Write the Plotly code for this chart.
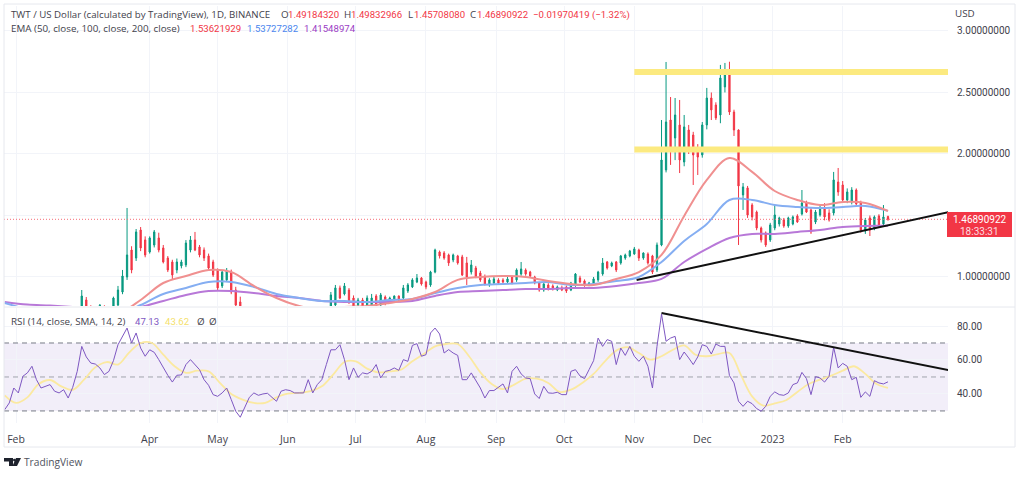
import pandas as pd
import plotly.graph_objects as go

W, H = 1024, 477

# daily-ish candles, one every two days
opens = [
    .68, .67, .66, .64, .65, .63, .62, .64, .66, .65,
    .67, .66, .68, .66, .67, .70, .72, .764, .813, .75,
    .74, .716, .76, .73, .74, .772, .878, 1.0, 1.219, 1.154,
    1.382, 1.301, 1.203, 1.26, 1.317, 1.236, 1.154, 1.122, 1.057, 1.09,
    1.098, 1.219, 1.301, 1.244, 1.219, 1.171, 1.122, 1.057, .927, .976,
    1.04, .894, .797, .69, .65, .64, .68, .67, .65, .66,
    .69, .67, .63, .61, .60, .62, .65, .64, .66, .68,
    .69, .70, .732, .772, .911, .862, .894, .829, .772, .813,
    .764, .772, .845, .772, .837, .813, .821, .845, .829, .886,
    .919, .959, .992, .959, .935, 1.04, 1.203, 1.195, 1.179, 1.138,
    1.171, 1.163, 1.114, 1.04, 1.073, 1.032, 1.0, .935, .951, .976,
    .976, .959, 1.0, .976, 1.024, 1.057, 1.04, 1.0, .951, .894,
    .935, .927, .894, .911, .919, .894, .935, .992, .968, .935,
    .951, .976, 1.024, 1.122, 1.09, 1.122, 1.114, 1.154, 1.171, 1.187,
    1.219, 1.154, 1.187, 1.171, 1.057, 1.26, 1.87, 2.276, 2.13, 2.236,
    1.935, 2.195, 2.154, 2.032, 1.992, 2.236, 2.455, 2.398, 2.317, 2.545,
    2.642, 2.341, 2.195, 1.667, 1.724, 1.585, 1.528, 1.398, 1.358, 1.301,
    1.398, 1.431, 1.463, 1.415, 1.431, 1.496, 1.512, 1.602, 1.545, 1.447,
    1.504, 1.561, 1.52, 1.52, 1.772, 1.748, 1.626, 1.61, 1.707, 1.602,
    1.374, 1.48, 1.398, 1.496, 1.431, 1.49184,
]
highs = [
    .70, .69, .68, .66, .67, .65, .65, .67, .68, .67,
    .69, .69, .70, .68, .71, .73, .75, .894, .837, .77,
    .76, .78, .77, .76, .84, .927, 1.057, 1.561, 1.25, 1.39,
    1.406, 1.33, 1.33, 1.382, 1.36, 1.26, 1.17, 1.14, 1.15, 1.14,
    1.30, 1.333, 1.366, 1.26, 1.24, 1.19, 1.14, 1.07, 1.05, 1.073,
    1.06, .92, .84, .71, .68, .70, .71, .69, .68, .70,
    .71, .68, .66, .64, .63, .66, .68, .67, .70, .71,
    .72, .74, .878, .935, .93, .951, .91, .85, .83, .83,
    .85, .862, .86, .87, .85, .84, .85, .85, .935, .95,
    .99, 1.024, 1.0, .97, 1.05, 1.23, 1.215, 1.21, 1.19, 1.19,
    1.18, 1.18, 1.163, 1.138, 1.09, 1.05, 1.02, .99, 1.0, .99,
    .99, 1.0, 1.01, 1.07, 1.122, 1.07, 1.05, 1.01, .96, .95,
    .95, .94, .93, .93, .93, .96, 1.032, 1.01, .98, .96,
    1.0, 1.05, 1.154, 1.13, 1.125, 1.13, 1.179, 1.19, 1.22, 1.244,
    1.23, 1.20, 1.2, 1.18, 1.28, 2.276, 2.748, 2.463, 2.455, 2.439,
    2.317, 2.236, 2.18, 2.08, 2.26, 2.537, 2.5, 2.42, 2.724, 2.74,
    2.75, 2.36, 2.2, 1.764, 1.74, 1.60, 1.54, 1.41, 1.37, 1.44,
    1.585, 1.49, 1.48, 1.49, 1.50, 1.51, 1.707, 1.62, 1.56, 1.545,
    1.59, 1.60, 1.55, 1.854, 1.886, 1.78, 1.72, 1.73, 1.72, 1.62,
    1.48, 1.50, 1.50, 1.51, 1.585, 1.49833,
]
lows = [
    .66, .65, .63, .62, .62, .61, .61, .63, .64, .64,
    .65, .65, .65, .65, .66, .69, .71, .748, .74, .72,
    .71, .70, .71, .71, .73, .76, .86, .976, 1.03, 1.13,
    1.21, 1.16, 1.19, 1.24, 1.20, 1.11, 1.04, .98, 1.03, 1.07,
    1.08, 1.20, 1.21, 1.16, 1.13, 1.06, 1.0, .894, .91, .96,
    .86, .76, .68, .63, .62, .63, .66, .63, .63, .65,
    .66, .62, .60, .58, .58, .61, .63, .62, .65, .66,
    .67, .69, .72, .76, .82, .85, .78, .75, .76, .74,
    .75, .76, .75, .76, .77, .80, .81, .80, .82, .87,
    .91, .95, .93, .90, .92, 1.03, 1.15, 1.14, 1.09, 1.12,
    1.10, 1.008, .935, 1.02, .99, .96, .93, .92, .94, .94,
    .95, .95, .94, .96, 1.01, 1.01, 1.0, .94, .88, .88,
    .89, .89, .885, .885, .87, .885, .92, .95, .92, .925,
    .94, .96, 1.01, 1.06, 1.08, 1.04, 1.10, 1.14, 1.16, 1.18,
    1.13, 1.14, 1.10, 1.024, 1.04, 1.25, 1.85, 1.911, 1.95, 1.845,
    1.90, 2.0, 1.748, 1.829, 1.97, 2.2, 2.276, 2.276, 2.25, 2.5,
    2.317, 2.146, 1.26, 1.545, 1.48, 1.46, 1.38, 1.28, 1.244, 1.285,
    1.38, 1.41, 1.40, 1.40, 1.42, 1.44, 1.50, 1.52, 1.35, 1.43,
    1.49, 1.46, 1.45, 1.50, 1.66, 1.61, 1.60, 1.59, 1.58, 1.36,
    1.35, 1.333, 1.38, 1.40, 1.42, 1.45708,
]
closes = [
    .67, .66, .64, .65, .63, .62, .64, .66, .65, .67,
    .66, .68, .66, .67, .70, .72, .74, .845, .764, .74,
    .72, .77, .73, .75, .829, .894, 1.008, 1.179, 1.057, 1.366,
    1.236, 1.179, 1.317, 1.366, 1.219, 1.122, 1.057, 1.016, 1.122, 1.122,
    1.276, 1.301, 1.219, 1.179, 1.154, 1.073, 1.016, .911, 1.04, 1.049,
    .878, .772, .691, .65, .64, .68, .67, .65, .66, .69,
    .67, .63, .61, .60, .62, .65, .64, .66, .68, .69,
    .70, .72, .854, .911, .829, .927, .797, .764, .813, .748,
    .829, .829, .764, .854, .788, .829, .845, .813, .911, .935,
    .976, .992, .943, .919, 1.04, 1.219, 1.171, 1.154, 1.114, 1.179,
    1.114, 1.016, 1.0, 1.098, 1.0, .976, .943, .976, .984, .951,
    .959, .984, .951, 1.057, 1.065, 1.024, 1.008, .951, .894, .943,
    .902, .902, .919, .894, .886, .951, 1.024, .959, .935, .951,
    .984, 1.04, 1.114, 1.073, 1.114, 1.057, 1.171, 1.179, 1.211, 1.228,
    1.154, 1.195, 1.114, 1.04, 1.26, 1.951, 2.26, 2.032, 2.317, 1.951,
    2.22, 2.032, 1.992, 1.975, 2.236, 2.455, 2.358, 2.293, 2.618, 2.65,
    2.341, 2.195, 1.74, 1.732, 1.504, 1.488, 1.398, 1.301, 1.26, 1.423,
    1.504, 1.48, 1.415, 1.48, 1.488, 1.447, 1.602, 1.528, 1.366, 1.528,
    1.553, 1.488, 1.463, 1.789, 1.691, 1.626, 1.691, 1.707, 1.594, 1.382,
    1.463, 1.382, 1.488, 1.415, 1.488, 1.46891,
]

# EMAs, one reading every ten days
ema50 = [
    .66, .66, .66, .67, .68, .70, .813, .951, 1.008, 1.057,
    1.04, .927, .829, .764, .732, .756, .764, .789, .821, .878,
    .976, 1.0, 1.008, 1.0, .967, .943, .935, .984, 1.04, 1.179,
    1.496, 1.789, 1.967, 1.854, 1.699, 1.626, 1.585, 1.61, 1.602, 1.53622,
]
ema100 = [
    .789, .732, .667, .634, .634, .691, .772, .862, .911, .959,
    .959, .919, .862, .829, .805, .805, .797, .813, .821, .870,
    .911, .935, .943, .951, .959, .935, .943, .967, 1.0, 1.122,
    1.293, 1.431, 1.626, 1.626, 1.585, 1.569, 1.561, 1.569, 1.577, 1.53727,
]
ema200 = [
    .797, .776, .768, .756, .74, .732, .756, .805, .854, .886,
    .886, .870, .846, .829, .805, .797, .797, .797, .805, .846,
    .878, .886, .894, .902, .902, .911, .911, .927, .951, .984,
    1.122, 1.228, 1.317, 1.35, 1.35, 1.366, 1.382, 1.407, 1.415, 1.41549,
]

rsi = [
    30.8, 34.7, 43.5, 40.6, 50.4, 52.4, 56.3, 48.4, 43.5, 44.5,
    45.5, 41.6, 40.6, 42.5, 37.6, 43.9, 53.3, 68, 61.8, 58.2,
    57.6, 55.3, 51.4, 53.3, 59.6, 69, 73.5, 78.8, 70, 75.9,
    67, 62.2, 66, 64.5, 60.2, 55.3, 51, 47, 51, 51.2,
    57.3, 60.2, 57.3, 54.3, 48.4, 45.1, 39.6, 38.6, 40.6, 43.5,
    36.7, 29.8, 26.3, 31.8, 38, 40.6, 39.2, 40, 40.4, 38,
    35.7, 41.6, 42.5, 42, 40.6, 40.6, 40.6, 48.4, 40.6, 45.5,
    48.4, 57.3, 66, 66, 69, 60.2, 48.4, 55.3, 49.8, 52.4,
    51.8, 53.3, 57.3, 49.4, 53.3, 53.9, 55.3, 53.9, 60.2, 59.2,
    68.6, 69.6, 62.2, 63.1, 75.9, 78.8, 75.3, 64.1, 66.1, 64.1,
    62.7, 48.4, 48.4, 52.4, 47.8, 43.5, 37.6, 42, 42, 43.9,
    45.9, 40.6, 53.3, 56.3, 51.8, 49.4, 49, 40, 37.3, 44.5,
    40.6, 40.4, 41, 39.6, 39.6, 53.3, 54.3, 50.6, 49, 54.3,
    59.6, 72.9, 68, 72, 71, 57.3, 67, 62.7, 68, 62.2,
    59.2, 62.2, 56.3, 43.5, 68, 87, 71, 72.9, 73.9, 60.2,
    64.7, 61.2, 57.3, 61.8, 69, 68, 63.5, 69.4, 68, 68,
    50.8, 46.5, 35.7, 32.7, 35.7, 34.3, 31.4, 29.8, 32.7, 38.6,
    41.2, 39.6, 39.2, 40.6, 45.5, 46.5, 52.7, 49, 39.6, 50.2,
    49.4, 47, 50.4, 67.5, 55.3, 58, 56.3, 48.4, 49.8, 38,
    41.2, 38.6, 47.8, 46.5, 45.9, 47.13,
]
# RSI moving average, one reading every five days
rsi_sma = [
    39.2, 34.7, 38, 45.9, 48.2, 44.5, 42.4, 48.4, 55.7, 58.8,
    57.3, 64.5, 70, 70, 63.1, 56.3, 52.4, 53.7, 53.3, 46.5,
    40, 36.7, 34.7, 34.7, 38, 40.2, 40.6, 41.6, 44.5, 51.4,
    58.8, 59.2, 54.9, 52.7, 53.3, 54.3, 59.2, 63.5, 68, 69.4,
    69.4, 62.2, 52.7, 45.9, 42.9, 45.5, 49, 49, 46.5, 41.2,
    42.5, 46.5, 51.8, 59.2, 65.5, 67.5, 64.1, 60.2, 62.2, 66,
    68.6, 63.1, 62.2, 63.5, 64.1, 51.4, 38.6, 33.1, 34.5, 36.3,
    41.2, 45.9, 48.4, 50.8, 53.7, 56.3, 51.8, 45.9, 43.62,
]

start_day = "2022-01-27"
bar_dates = pd.date_range(start_day, periods=len(closes), freq="2D")
ema_dates = pd.date_range(start_day, periods=len(ema50), freq="10D")
sma_dates = pd.date_range(start_day, periods=len(rsi_sma), freq="5D")

month_ticks = ["2022-02-01", "2022-04-01", "2022-05-01", "2022-06-01", "2022-07-01", "2022-08-01",
               "2022-09-01", "2022-10-01", "2022-11-01", "2022-12-01", "2023-01-01", "2023-02-01"]
month_labels = ["Feb", "Apr", "May", "Jun", "Jul", "Aug", "Sep", "Oct", "Nov", "Dec", "2023", "Feb"]
price_ticks = [1.0, 1.5, 2.0, 2.5, 3.0]
# the 1.5 label sits under the last price tag, so it stays blank
price_labels = ["1.00000000", "", "2.00000000", "2.50000000", "3.00000000"]
rsi_ticks = [40, 60, 80]
x_range = ["2022-01-26 16:00", "2023-03-19 12:00"]

last_price = 1.46890922
zone_dates = ["2022-11-01", "2023-03-19 12:00"]
upper_zone = 2.667
lower_zone = 2.037
price_trend_dates = ["2022-11-02", "2023-03-20"]
price_trend = [0.976, 1.528]
rsi_trend_dates = ["2022-11-13", "2023-03-20"]
rsi_trend = [87.6, 54]

GREEN = "#089981"
RED = "#f23645"
TXT = "#3f424c"
FONT = "Open Sans"
NUM_FONT = "Roboto"


def px(x):
    return x / W


def py(y):
    return 1 - y / H


def label(x, y, text, size=9.8, color=TXT, anchor="left", family=FONT):
    # annotations carry 2px of padding
    x = x - 2 if anchor == "left" else x
    fig.add_annotation(xref="paper", yref="paper", x=px(x), y=py(y), text=text, showarrow=False,
                       xanchor=anchor, yanchor="middle", font=dict(family=family, size=size, color=color))


def value(x, y, text, color=RED):
    label(x, y, text, size=9.6, color=color, family=NUM_FONT)


def line_trace(x, y, color, width, axis="", dash=None, spline=False):
    fig.add_trace(go.Scatter(x=x, y=y, mode="lines", hoverinfo="skip", xaxis="x" + axis, yaxis="y" + axis,
                             line=dict(color=color, width=width, dash=dash, shape="spline" if spline else "linear")))


fig = go.Figure()

line_trace(zone_dates, [upper_zone, upper_zone], "#fcea80", 6)
line_trace(zone_dates, [lower_zone, lower_zone], "#fcea80", 6)
line_trace(x_range, [last_price, last_price], "#f56b77", 1, dash="1px,2px")

fig.add_trace(go.Candlestick(
    x=bar_dates, open=opens, high=highs, low=lows, close=closes, whiskerwidth=0,
    increasing=dict(line=dict(color=GREEN, width=1), fillcolor=GREEN),
    decreasing=dict(line=dict(color=RED, width=1), fillcolor=RED),
    xaxis="x", yaxis="y"))

line_trace(ema_dates, ema200, "#b878d8", 2, spline=True)
line_trace(ema_dates, ema100, "#85aef2", 2, spline=True)
line_trace(ema_dates, ema50, "#f09090", 2, spline=True)
line_trace(price_trend_dates, price_trend, "#111111", 2)

line_trace(x_range, [70, 70], "#787b86", 1, axis="2", dash="5px,4px")
line_trace(x_range, [50, 50], "#a0a3ad", 1, axis="2", dash="5px,4px")
line_trace(x_range, [30, 30], "#787b86", 1, axis="2", dash="5px,4px")
line_trace(sma_dates, rsi_sma, "#fbe9a0", 1.8, axis="2", spline=True)
line_trace(bar_dates, rsi, "#7e57c2", 1, axis="2")
line_trace(rsi_trend_dates, rsi_trend, "#111111", 2, axis="2")

grid = "#f2f4f9"
x_common = dict(type="date", range=x_range, tickvals=month_ticks, gridcolor=grid, gridwidth=1,
                zeroline=False, showline=False, rangeslider=dict(visible=False))
y_ticks = dict(side="right", ticks="outside", ticklen=6, tickcolor="rgba(0,0,0,0)", gridcolor=grid, zeroline=False,
               tickfont=dict(family=NUM_FONT, size=10, color=TXT))
fig.update_layout(
    width=W, height=H, margin=dict(l=0, r=0, t=0, b=0), paper_bgcolor="white", plot_bgcolor="white",
    showlegend=False, boxgap=0.6,
    xaxis=dict(domain=[px(4), px(948)], anchor="y", showticklabels=False, **x_common),
    xaxis2=dict(domain=[px(4), px(948)], anchor="y2", ticktext=month_labels, ticklen=6, ticks="outside",
                tickcolor="rgba(0,0,0,0)", tickfont=dict(family=FONT, size=10.5, color=TXT), **x_common),
    yaxis=dict(domain=[py(306), py(6)], range=[0.764, 3.203], anchor="x", tickvals=price_ticks,
               ticktext=price_labels, **y_ticks),
    yaxis2=dict(domain=[py(423), py(308)], range=[22.9, 90.6], anchor="x2", tickvals=rsi_ticks,
                tickformat=".2f", **y_ticks),
)

frame = "#e6e8ee"
fig.add_shape(type="rect", xref="x2 domain", yref="y2", x0=0, x1=1, y0=30, y1=70, layer="below",
              fillcolor="rgba(126,87,194,0.10)", line_width=0)
fig.add_shape(type="rect", xref="paper", yref="paper", x0=px(4), x1=px(1015), y0=py(447), y1=py(4),
              line=dict(color=frame, width=1))
fig.add_shape(type="line", xref="paper", yref="paper", x0=px(4), x1=px(1015), y0=py(307), y1=py(307),
              line=dict(color=frame, width=1))
fig.add_shape(type="rect", xref="paper", yref="paper", x0=px(947), x1=px(1012), y0=py(237), y1=py(212),
              fillcolor=RED, line_width=0)

# TradingView mark
logo = [(4, 458), (13, 458), (13, 466), (9, 466), (9, 461.5), (4, 461.5)]
logo2 = [(16, 458), (21, 458), (17, 466), (12.5, 466)]
for pts in [logo, logo2]:
    path = "M " + " L ".join(f"{px(a):.5f} {py(b):.5f}" for a, b in pts) + " Z"
    fig.add_shape(type="path", xref="paper", yref="paper", path=path, fillcolor="#1e222d", line_width=0)
fig.add_shape(type="circle", xref="paper", yref="paper", x0=px(13), x1=px(15.8), y0=py(461.5), y1=py(458.7),
              fillcolor="#1e222d", line_width=0)

label(11, 15, "TWT / US Dollar (calculated by TradingView), 1D, BINANCE", size=9.7)
label(281, 15, "O")
value(288, 15, "1.49184320")
label(344, 15, "H")
value(351, 15, "1.49832966")
label(408, 15, "L")
value(414, 15, "1.45708080")
label(470, 15, "C")
value(477, 15, "1.46890922")
value(533, 15, "\u22120.01970419 (\u22121.32%)")
label(11, 29, "EMA (50, close, 100, close, 200, close)")
value(190, 29, "1.53621929")
value(247, 29, "1.53727282", color="#4a86ee")
value(304, 29, "1.41548974", color="#9c3cc4")
label(955, 14, "USD")
label(11, 321, "RSI (14, close, SMA, 14, 2)")
value(135, 321, "47.13", color="#7e57c2")
value(165, 321, "43.62", color="#f5df6c")
label(197, 321, "\u00d8")
label(209, 321, "\u00d8")
label(979.5, 219.5, "1.46890922", size=10, color="white", anchor="center", family=NUM_FONT)
label(979.5, 231, "18:33:31", size=10, color="#fcdde0", anchor="center", family=NUM_FONT)
label(24, 462, "TradingView", size=10.2, color="#50535e")

fig.write_html("out.html", config={"displayModeBar": False}, post_script="document.body.style.margin='0';")
